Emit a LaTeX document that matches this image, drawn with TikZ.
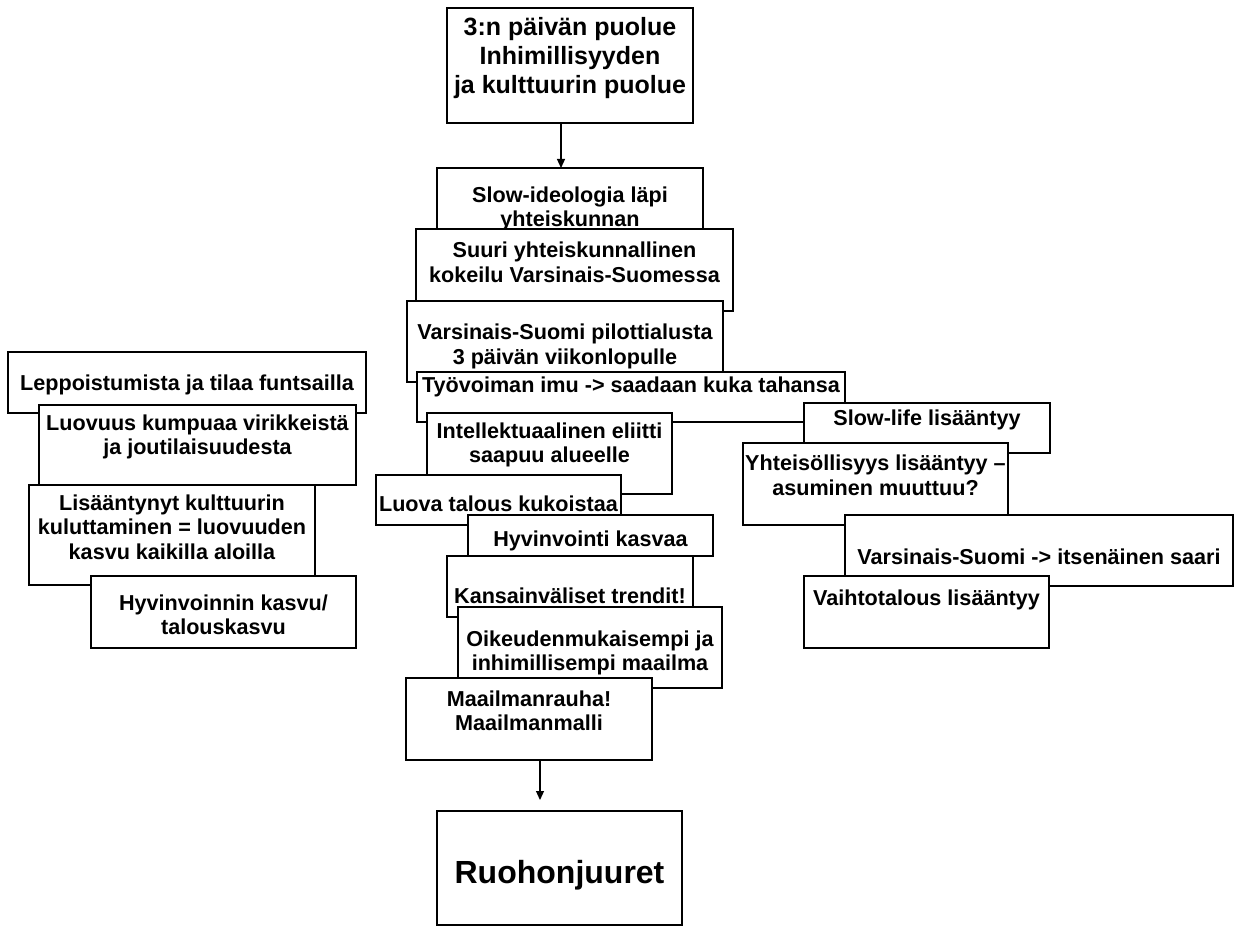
\documentclass[tikz,border=0pt]{standalone}
\usepackage{fontspec}
\setmainfont{Liberation Sans}
\usetikzlibrary{arrows.meta}
\tikzset{
  bx/.style={draw=black, fill=white, line width=1.2pt, rectangle, inner sep=0pt, outer sep=0pt},
  txt/.style={align=center, inner sep=0pt, font=\fontsize{21.6}{24.5}\selectfont\bfseries},
  bigtxt/.style={txt, font=\fontsize{25}{29}\selectfont\bfseries},
  hugetxt/.style={txt, font=\fontsize{32}{38}\selectfont\bfseries},
  arr/.style={line width=1.2pt, -{Triangle[length=9pt,width=8pt]}}
}
% style, name, x1, y1, x2, y2, text-centre y, text
\newcommand\boxnode[8]{%
  \node[bx, minimum width={#5-#3}, minimum height={#6-#4}, anchor=north west] (#2) at (#3,#4) {};
  \node[#1] (#2-t) at ({(#3+#5)/2},#7) {#8};
}
\begin{document}
\begin{tikzpicture}[x=1pt,y=-1pt]
\useasboundingbox (0,0) rectangle (1235,928);

% central column
\boxnode{bigtxt}{top}{447}{8}{693}{123}{58}{3:n päivän puolue\\Inhimillisyyden\\ja kulttuurin puolue}
\boxnode{txt}{slow}{437}{168}{703}{240}{209}{Slow-ideologia läpi\\yhteiskunnan}
\boxnode{txt}{suuri}{416}{229}{733}{311}{262.5}{Suuri yhteiskunnallinen\\kokeilu Varsinais-Suomessa}
\boxnode{txt}{vars}{407}{301}{723}{382}{346.5}{Varsinais-Suomi pilottialusta\\3 päivän viikonlopulle}
\boxnode{txt}{tyo}{417}{372}{845}{422}{387}{Työvoiman imu -> saadaan kuka tahansa}
\boxnode{txt}{intel}{427}{413}{672}{494}{445}{Intellektuaalinen eliitti\\saapuu alueelle}
\boxnode{txt}{luova}{376}{475}{621}{525}{504}{Luova talous kukoistaa}
\boxnode{txt}{hyvk}{468}{515}{713}{556}{541}{Hyvinvointi kasvaa}
\boxnode{txt}{kans}{447}{556}{693}{617}{596}{Kansainväliset trendit!}
\boxnode{txt}{oik}{458}{607}{722}{688}{653}{Oikeudenmukaisempi ja\\inhimillisempi maailma}
\boxnode{txt}{maa}{406}{678}{652}{760}{711}{Maailmanrauha!\\Maailmanmalli}
\boxnode{hugetxt}{ruoho}{437}{811}{682}{925}{875}{Ruohonjuuret}

% left column
\boxnode{txt}{lepp}{8}{352}{366}{413}{385}{Leppoistumista ja tilaa funtsailla}
\boxnode{txt}{luov}{39}{405}{356}{485}{437}{Luovuus kumpuaa virikkeistä\\ja joutilaisuudesta}
\boxnode{txt}{lisa}{29}{485}{315}{585}{527}{Lisääntynyt kulttuurin\\kuluttaminen = luovuuden\\kasvu kaikilla aloilla}
\boxnode{txt}{hyvi}{91}{576}{356}{648}{615}{Hyvinvoinnin kasvu/\\talouskasvu}

% right column
\boxnode{txt}{slowl}{804}{403}{1050}{453}{420}{Slow-life lisääntyy}
\boxnode{txt}{yht}{743}{443}{1008}{525}{475.5}{Yhteisöllisyys lisääntyy –\\asuminen muuttuu?}
\boxnode{txt}{saari}{845}{515}{1233}{586}{557}{Varsinais-Suomi -> itsenäinen saari}
\boxnode{txt}{vaih}{804}{576}{1049}{648}{600}{Vaihtotalous lisääntyy}

% connectors
\coordinate (c1) at (561,0);
\coordinate (c2) at (540,0);
\draw[arr] (top.south -| c1) -- (slow.north -| c1);
\draw[arr, shorten >=11pt] (maa.south -| c2) -- (ruoho.north -| c2);
\end{tikzpicture}
\end{document}
